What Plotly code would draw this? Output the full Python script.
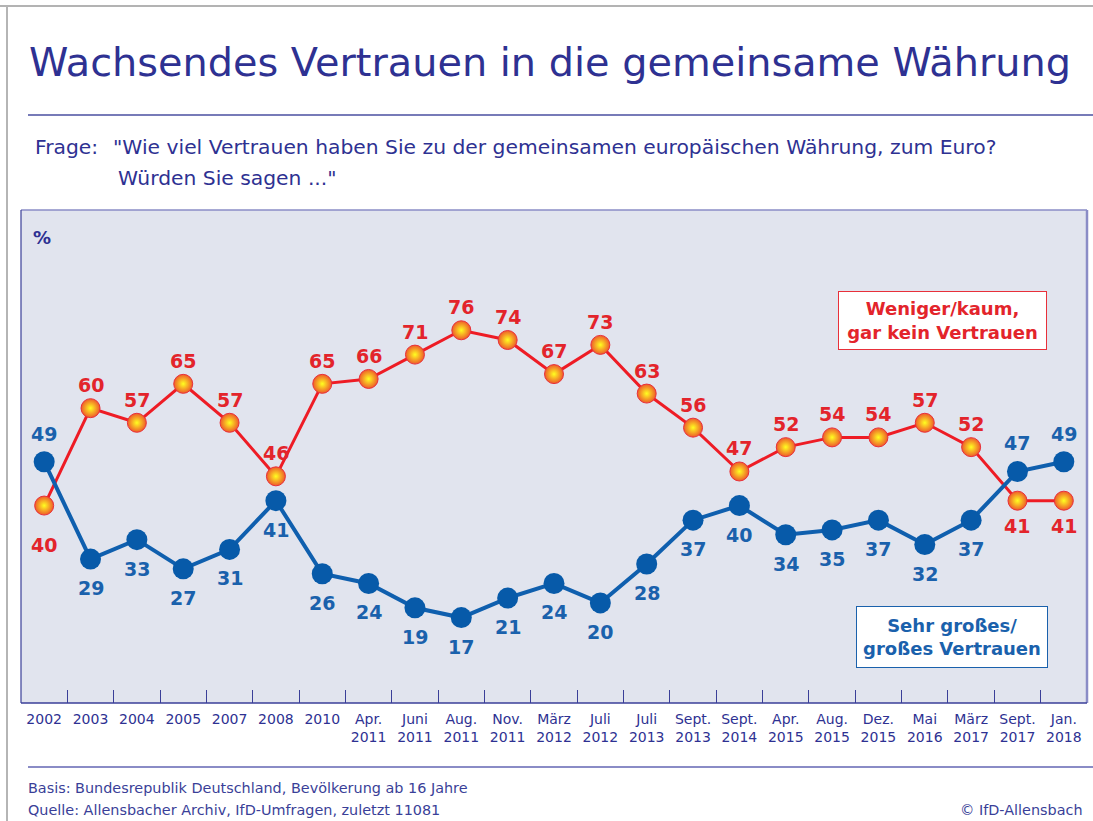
import plotly.graph_objects as go

categories = ["2002", "2003", "2004", "2005", "2007", "2008", "2010",
              "Apr.<br>2011", "Juni<br>2011", "Aug.<br>2011", "Nov.<br>2011",
              "März<br>2012", "Juli<br>2012", "Juli<br>2013", "Sept.<br>2013",
              "Sept.<br>2014", "Apr.<br>2015", "Aug.<br>2015", "Dez.<br>2015",
              "Mai<br>2016", "März<br>2017", "Sept.<br>2017", "Jan.<br>2018"]
weniger = [40, 60, 57, 65, 57, 46, 65, 66, 71, 76, 74, 67, 73, 63, 56, 47, 52, 54, 54, 57, 52, 41, 41]
gross = [49, 29, 33, 27, 31, 41, 26, 24, 19, 17, 21, 24, 20, 28, 37, 40, 34, 35, 37, 32, 37, 47, 49]

W, H = 1093, 821
L, R, T, B = 21, 1087, 210, 703
FONT = "DejaVu Sans"
NAVY = "#2e3192"
RED = "#e3242b"
BLUE = "#1a61ac"


def px(x):
    return (x - L) / (R - L)


def py(y):
    return (B - y) / (B - T)


xs = list(range(len(categories)))
n = len(categories)

# label placement: which points get their label on the other side
red_below = {0: 39, n - 2: 25, n - 1: 25}
blue_above = {0: 28, n - 2: 28, n - 1: 28}

fig = go.Figure()
fig.add_trace(go.Scatter(
    x=xs, y=weniger, mode="lines+markers",
    line=dict(color="#ee1c25", width=3),
    marker=dict(size=19, color="#ee5a2a", line=dict(color="#e8303a", width=1),
                gradient=dict(type="radial", color="#ffff20")),
    cliponaxis=False, hoverinfo="skip", showlegend=False))
fig.add_trace(go.Scatter(
    x=xs, y=gross, mode="lines+markers",
    line=dict(color="#0f5fae", width=4),
    marker=dict(size=21, color="#075aa9"),
    cliponaxis=False, hoverinfo="skip", showlegend=False))

shapes = [
    # outer frame
    dict(type="line", xref="paper", yref="paper", x0=px(0), x1=px(W), y0=py(6), y1=py(6),
         line=dict(color="#9a9a9a", width=1.5)),
    dict(type="line", xref="paper", yref="paper", x0=px(7), x1=px(7), y0=py(6), y1=py(H),
         line=dict(color="#b5b5b5", width=2)),
    # title underline
    dict(type="line", xref="paper", yref="paper", x0=px(28), x1=px(W), y0=py(115), y1=py(115),
         line=dict(color="#4a4fa0", width=1.5)),
    # footer line
    dict(type="line", xref="paper", yref="paper", x0=px(28), x1=px(W), y0=py(767), y1=py(767),
         line=dict(color="#8a8cc6", width=2)),
    # plot borders
    dict(type="line", xref="paper", yref="paper", x0=0, x1=1, y0=1, y1=1,
         line=dict(color="#8a8cc6", width=1.5)),
    dict(type="line", xref="paper", yref="paper", x0=1, x1=1, y0=0, y1=1,
         line=dict(color="#8a8cc6", width=2.5)),
    dict(type="line", xref="paper", yref="paper", x0=0, x1=0, y0=0, y1=1,
         line=dict(color="#3a3f98", width=1.2)),
    dict(type="line", xref="paper", yref="paper", x0=0, x1=1, y0=0, y1=0,
         line=dict(color="#3a3f98", width=1.5)),
]

ann = [
    dict(text="Wachsendes Vertrauen in die gemeinsame Währung", x=px(27), y=py(62),
         xanchor="left", yanchor="middle", font=dict(family=FONT, size=39.8, color=NAVY)),
    dict(text="Frage:", x=px(33), y=py(147), xanchor="left", yanchor="middle",
         font=dict(family=FONT, size=20.3, color=NAVY)),
    dict(text="\"Wie viel Vertrauen haben Sie zu der gemeinsamen europäischen Währung, zum Euro?",
         x=px(111), y=py(147), xanchor="left", yanchor="middle",
         font=dict(family=FONT, size=20.3, color=NAVY)),
    dict(text="Würden Sie sagen ...\"", x=px(116), y=py(178), xanchor="left", yanchor="middle",
         font=dict(family=FONT, size=20.3, color=NAVY)),
    dict(text="<b>%</b>", x=px(31), y=py(237), xanchor="left", yanchor="middle",
         font=dict(family=FONT, size=18, color=NAVY)),
    dict(text="<b>Weniger/kaum,<br>gar kein Vertrauen</b>", x=px(942.5), y=py(320.5),
         xanchor="center", yanchor="middle", width=199, height=49, align="center",
         bgcolor="white", bordercolor="#e8303a", borderwidth=1, borderpad=4,
         font=dict(family=FONT, size=18, color=RED)),
    dict(text="<b>Sehr großes/<br>großes Vertrauen</b>", x=px(952), y=py(637),
         xanchor="center", yanchor="middle", width=182, height=52, align="center",
         bgcolor="white", bordercolor="#1a61ac", borderwidth=1, borderpad=4,
         font=dict(family=FONT, size=18, color=BLUE)),
    dict(text="Basis: Bundesrepublik Deutschland, Bevölkerung ab 16 Jahre", x=px(26), y=py(788),
         xanchor="left", yanchor="middle", font=dict(family=FONT, size=14.4, color="#3a3f98")),
    dict(text="Quelle: Allensbacher Archiv, IfD-Umfragen, zuletzt 11081", x=px(26), y=py(810),
         xanchor="left", yanchor="middle", font=dict(family=FONT, size=14.4, color="#3a3f98")),
    dict(text="© IfD-Allensbach", x=px(1085), y=py(810),
         xanchor="right", yanchor="middle", font=dict(family=FONT, size=14.4, color="#3a3f98")),
]
for a in ann:
    a.update(xref="paper", yref="paper", showarrow=False)

# data labels, placed through the data axes
for i, v in enumerate(weniger):
    shift = -red_below[i] if i in red_below else 23
    ann.append(dict(x=xs[i], y=v, xref="x", yref="y", text=f"<b>{v}</b>", showarrow=False,
                    yshift=shift, xanchor="center", yanchor="middle",
                    font=dict(family=FONT, size=19, color=RED)))
for i, v in enumerate(gross):
    shift = blue_above[i] if i in blue_above else -29
    ann.append(dict(x=xs[i], y=v, xref="x", yref="y", text=f"<b>{v}</b>", showarrow=False,
                    yshift=shift, xanchor="center", yanchor="middle",
                    font=dict(family=FONT, size=19, color=BLUE)))

fig.update_layout(
    width=W, height=H,
    margin=dict(l=L, r=W - R, t=T, b=H - B, pad=0),
    paper_bgcolor="white", plot_bgcolor="#e1e4ee",
    shapes=shapes, annotations=ann,
    xaxis=dict(range=[-0.5, n - 0.5], tickmode="array", tickvals=xs, ticktext=categories,
               ticks="", showgrid=False, zeroline=False, showline=False,
               tickfont=dict(family=FONT, size=14, color=NAVY), ticklabelstandoff=6,
               fixedrange=True),
    yaxis=dict(range=[-0.55, 100.7], visible=False, fixedrange=True),
)
# boundary ticks drawn on a second, overlaying axis
fig.update_layout(xaxis2=dict(overlaying="x", range=[-0.5, n - 0.5], tickmode="array",
                              tickvals=[i + 0.5 for i in range(n - 1)], ticktext=[""] * (n - 1),
                              ticks="inside", ticklen=13, tickwidth=1.2, tickcolor="#3a3f98",
                              side="bottom", showgrid=False, zeroline=False, showline=False,
                              fixedrange=True, anchor="y"))
fig.add_trace(go.Scatter(x=[0], y=[-10], xaxis="x2", mode="markers", marker=dict(opacity=0),
                         hoverinfo="skip", showlegend=False))

fig.write_html("out.html", config={"displayModeBar": False},
               post_script="document.body.style.margin='0';document.body.style.overflow='hidden';")
